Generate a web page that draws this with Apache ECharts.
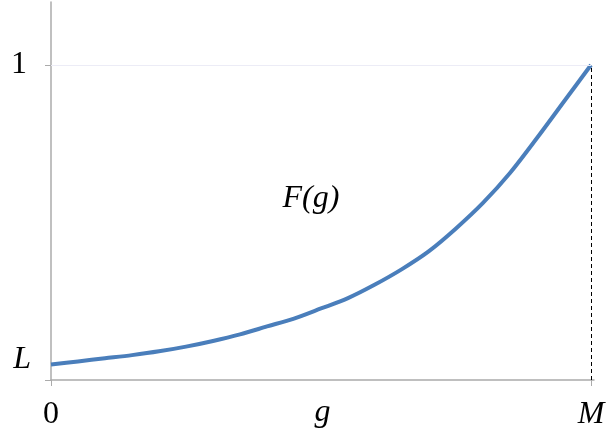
<!DOCTYPE html>
<html>
<head>
<meta charset="utf-8">
<script src="https://cdn.jsdelivr.net/npm/echarts@6/dist/echarts.min.js"></script>
<style>
  html, body { margin: 0; padding: 0; background: #fff; }
  #chart { width: 607px; height: 438px; }
</style>
</head>
<body>
<div id="chart"></div>
<script>
// curve F(g) (g scaled 0..M = 0..1)
const gValues = [0, 0.05, 0.1, 0.15, 0.2, 0.25, 0.3, 0.35, 0.4, 0.45, 0.5,
                 0.55, 0.6, 0.65, 0.7, 0.75, 0.8, 0.85, 0.9, 0.95, 1]
const fValues = [0.049, 0.059, 0.069, 0.079, 0.091, 0.106, 0.124, 0.145, 0.170, 0.195, 0.227,
                 0.260, 0.303, 0.352, 0.409, 0.481, 0.562, 0.657, 0.768, 0.884, 1.0]

const xTickValues = [0, 1]
const xTickLabels = ['0', 'M']
const yTickValues = [0.049, 1]
const yTickLabels = ['L', '1']

const serif = "'Times New Roman', 'Liberation Serif', serif"
const axisGray = '#ABABAB'
const fs = 32

let myChart = echarts.init(document.getElementById('chart'))

let option = {
  animation: false,
  backgroundColor: '#fff',
  grid: { left: 51, right: 13, top: 2, bottom: 58, outerBoundsMode: 'none', containLabel: false },
  xAxis: {
    type: 'value',
    min: 0,
    max: 1.0056,
    name: 'g',
    nameLocation: 'middle',
    nameGap: 17,
    nameMoveOverlap: false,
    nameTextStyle: { fontFamily: serif, fontSize: fs, fontStyle: 'italic', color: '#000', verticalAlign: 'top' },
    axisLine: { lineStyle: { color: axisGray, width: 1.5 } },
    axisTick: { customValues: xTickValues, length: 6, lineStyle: { color: axisGray } },
    splitLine: { show: false },
    axisLabel: {
      customValues: xTickValues,
      margin: 19,
      fontFamily: serif,
      fontSize: fs,
      color: '#000',
      formatter: function (v) {
        let s = xTickLabels[xTickValues.indexOf(v)]
        return s === '0' ? s : '{it|' + s + '}'
      },
      rich: { it: { fontFamily: serif, fontSize: fs, fontStyle: 'italic', color: '#000' } }
    }
  },
  yAxis: {
    type: 'value',
    min: 0,
    max: 1.2,
    axisLine: { lineStyle: { color: axisGray, width: 1.5 } },
    axisTick: { customValues: [0, 1], length: 6, lineStyle: { color: axisGray } },
    splitLine: { show: false },
    axisLabel: {
      customValues: yTickValues,
      margin: 20,
      fontFamily: serif,
      fontSize: fs,
      color: '#000',
      formatter: function (v) {
        let s = yTickLabels[yTickValues.indexOf(v)]
        return s === '1' ? '{n|1}' : '{it|' + s + '}'
      },
      rich: {
        n: { fontFamily: serif, fontSize: fs, color: '#000', padding: [0, 4, 0, 0] },
        it: { fontFamily: serif, fontSize: fs, fontStyle: 'italic', color: '#000', padding: [0, 0, 10, 0] }
      }
    }
  },
  graphic: [{
    type: 'text',
    x: 311,
    y: 199,
    style: {
      text: 'F(g)',
      font: 'italic ' + fs + 'px ' + serif,
      fill: '#000',
      align: 'center',
      verticalAlign: 'middle'
    }
  }],
  series: [{
    type: 'line',
    data: gValues.map((g, i) => [g, fValues[i]]),
    smooth: 0.3,
    symbol: 'none',
    lineStyle: { color: '#4A7EBB', width: 4 },
    markLine: {
      silent: true,
      symbol: 'none',
      label: { show: false },
      data: [
        [{ coord: [0, 1], lineStyle: { color: '#ECECF6', width: 1, type: 'solid' } }, { coord: [1, 1] }],
        [{ coord: [1, 0], lineStyle: { color: '#000', width: 1, type: [4, 3] } }, { coord: [1, 1] }]
      ]
    }
  }]
}

myChart.setOption(option)
</script>
</body>
</html>
